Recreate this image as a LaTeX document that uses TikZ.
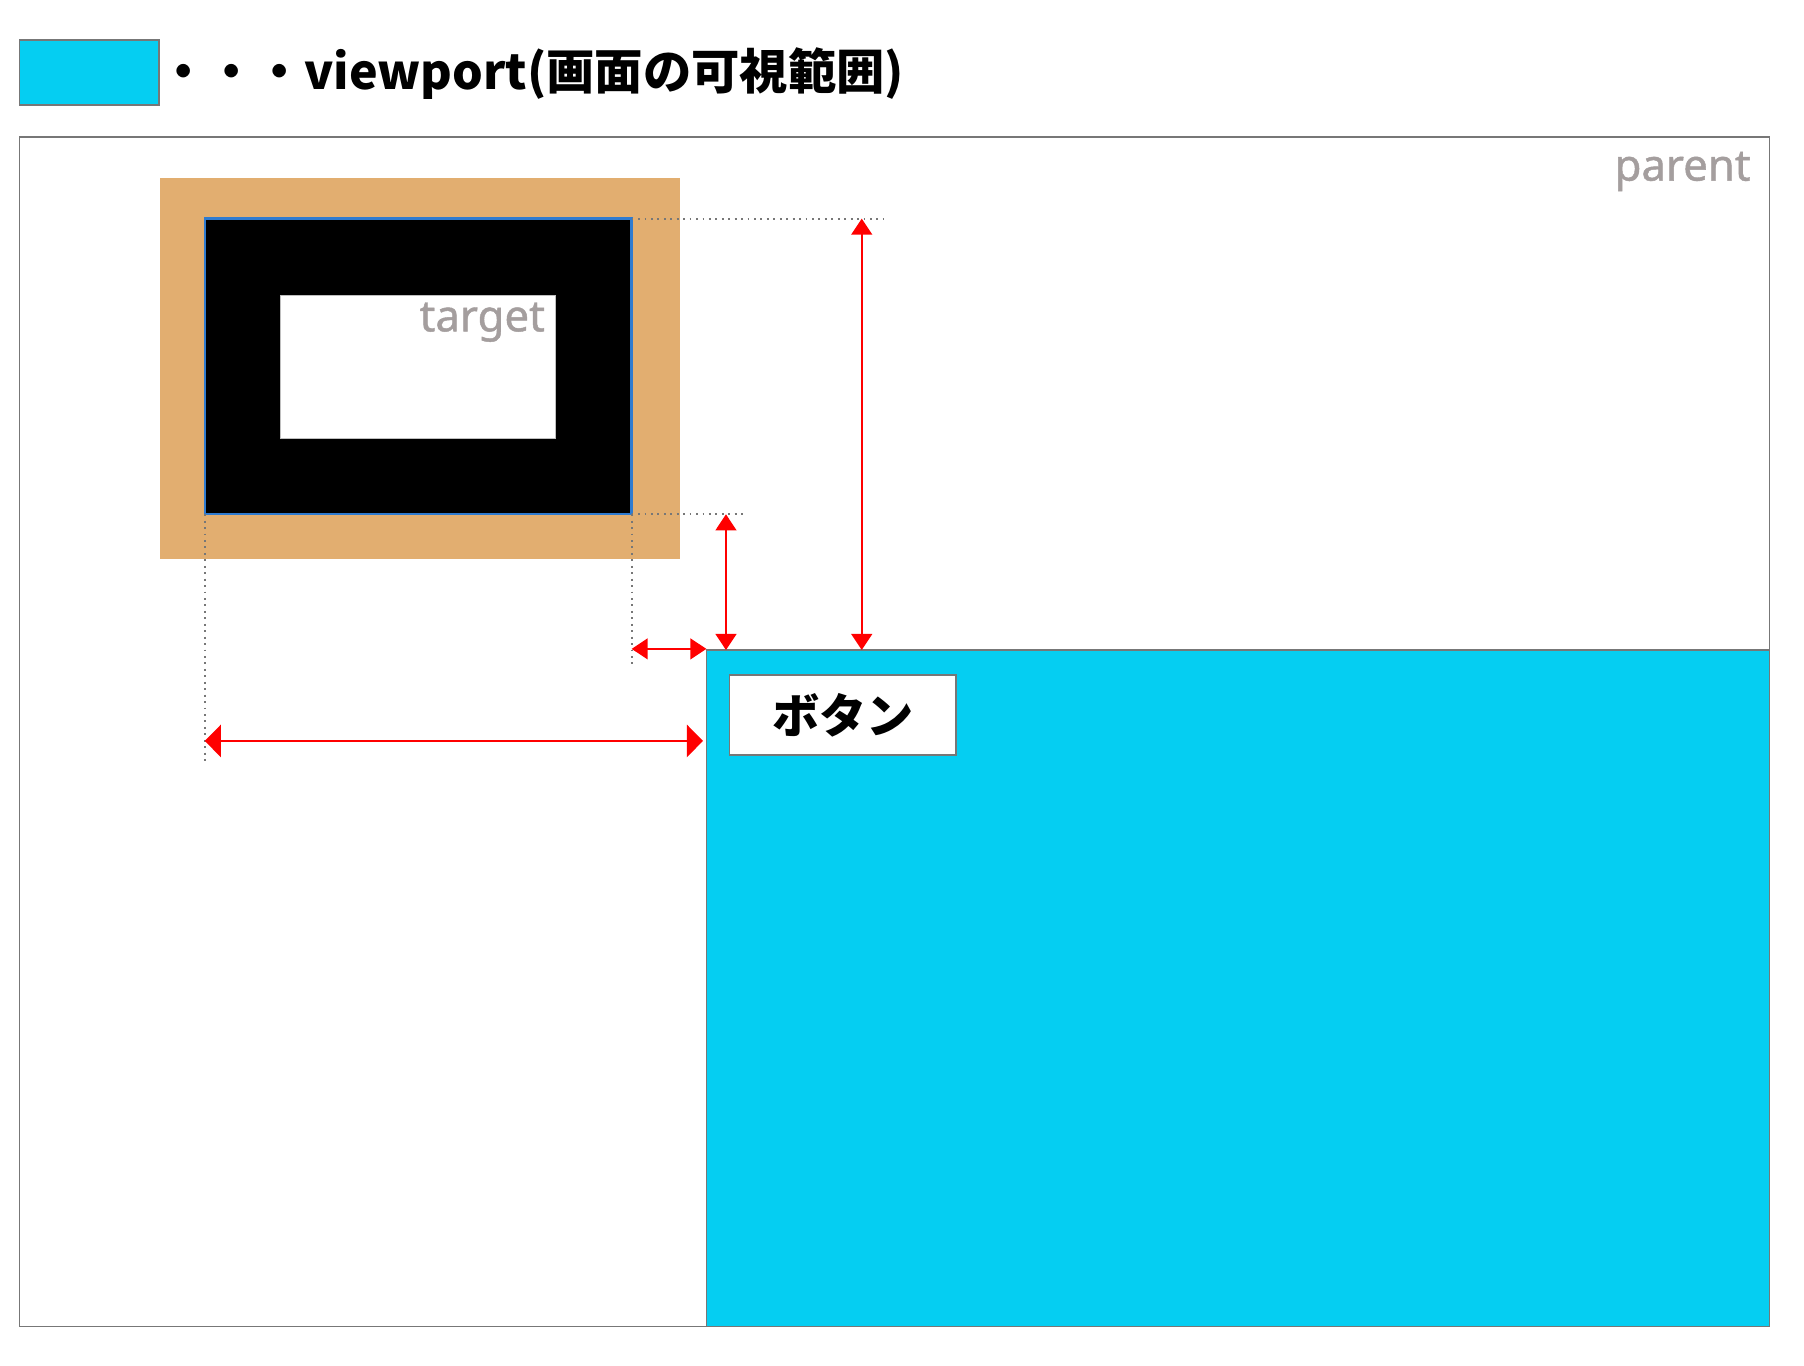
\documentclass[tikz,border=0pt]{standalone}
\usepackage{fontspec}
\setmainfont{Noto Sans}
\newfontfamily\cjk{Noto Sans CJK JP}
\newfontfamily\lblfont{Noto Sans}[FakeBold=1]
\usetikzlibrary{arrows.meta}
\definecolor{vp}{HTML}{05CEF2}
\definecolor{org}{HTML}{E2AE70}
\definecolor{lblc}{HTML}{A49E9E}
\definecolor{edge}{HTML}{777777}
\definecolor{tblue}{HTML}{2F7BD0}
\begin{document}
\begin{tikzpicture}[x=0.5pt,y=-0.5pt,
  frame/.style={draw=edge,line width=0.8pt},
  meas/.style={red,line width=1pt,{Triangle[length=7pt,width=9pt]}-{Triangle[length=7pt,width=9pt]}},
  measbig/.style={red,line width=1pt,{Triangle[length=7pt,width=14pt]}-{Triangle[length=7pt,width=14pt]}},
  guide/.style={draw=edge,dotted,line width=0.8pt},
  lbl/.style={text=lblc,font=\lblfont\fontsize{19}{19}\selectfont,inner sep=0pt}]
\useasboundingbox (0,0) rectangle (1568,1187);
% legend
\draw[frame,fill=vp] (17,35) rectangle (138,91);
\node[anchor=base west,inner sep=0pt,font=\cjk\bfseries\fontsize{21}{21}\selectfont] (legend) at (138,78) {・・・viewport(画面の可視範囲)};
% parent
\draw[frame,fill=white] (17,119) rectangle (1538,1153);
\node[lbl,anchor=base east] (parentlbl) at (1522,157) {parent};
% target area
\fill[org] (139,155) rectangle (591,486);
\draw[tblue,line width=1pt,fill=black] (178,190) rectangle (549,447);
\draw[draw=lightgray,line width=0.5pt,fill=white] (244,257) rectangle (483,381);
\node[lbl,anchor=base east] (targetlbl) at (474,288) {target};
% coordinates
\coordinate (tTR) at (549,190);
\coordinate (tBR) at (549,447);
\coordinate (tBL) at (178,447);
\coordinate (g1) at (768,190);
\coordinate (g2) at (648,447);
\coordinate (g3) at (178,665);
\coordinate (g4) at (549,578);
% guides
\draw[guide] (tTR) -- (g1);
\draw[guide] (tBR) -- (g2);
\draw[guide] (tBL) -- (g3);
\draw[guide] (tBR) -- (g4);
% viewport
\draw[frame,fill=vp] (614,565) rectangle (1538,1153);
\node[draw=edge,line width=0.8pt,fill=white,minimum width=98.5pt,minimum height=34.5pt,inner sep=0pt,font=\cjk\bfseries\fontsize{20.5}{20.5}\selectfont] (btn) at (732.5,621.5) {ボタン};
% measurement arrows
\coordinate (a1s) at (749,190);
\coordinate (a1e) at (749,565);
\coordinate (a2s) at (631,447);
\coordinate (a2e) at (631,565);
\coordinate (a3s) at (549,564);
\coordinate (a3e) at (614,564);
\coordinate (a4s) at (178,644);
\coordinate (a4e) at (611,644);
\draw[meas] (a1s) -- (a1e);
\draw[meas] (a2s) -- (a2e);
\draw[meas] (a3s) -- (a3e);
\draw[measbig] (a4s) -- (a4e);
\end{tikzpicture}
\end{document}
